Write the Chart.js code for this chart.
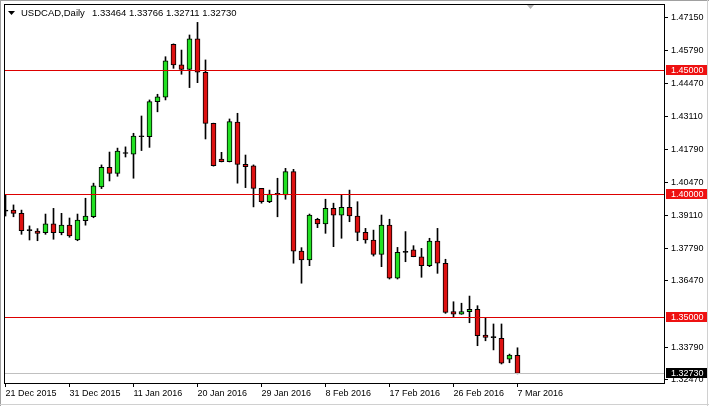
<!DOCTYPE html>
<html>
<head>
<meta charset="utf-8">
<script src="https://cdn.jsdelivr.net/npm/chart.js@4.4.1/dist/chart.umd.min.js"></script>
<style>
html,body{margin:0;padding:0;background:#fff;overflow:hidden}
canvas{display:block}
</style>
</head>
<body>
<canvas id="c" width="709" height="406"></canvas>
<script>
// ---------------- data ----------------
const symbol = 'USDCAD';
const period = 'Daily';
const dates = [
  '21 Dec 2015','22 Dec 2015','23 Dec 2015','24 Dec 2015','27 Dec 2015','28 Dec 2015','29 Dec 2015','30 Dec 2015',
  '31 Dec 2015','3 Jan 2016','4 Jan 2016','5 Jan 2016','6 Jan 2016','7 Jan 2016','8 Jan 2016','10 Jan 2016',
  '11 Jan 2016','12 Jan 2016','13 Jan 2016','14 Jan 2016','15 Jan 2016','17 Jan 2016','18 Jan 2016','19 Jan 2016',
  '20 Jan 2016','21 Jan 2016','22 Jan 2016','24 Jan 2016','25 Jan 2016','26 Jan 2016','27 Jan 2016','28 Jan 2016',
  '29 Jan 2016','31 Jan 2016','1 Feb 2016','2 Feb 2016','3 Feb 2016','4 Feb 2016','5 Feb 2016','7 Feb 2016',
  '8 Feb 2016','9 Feb 2016','10 Feb 2016','11 Feb 2016','12 Feb 2016','14 Feb 2016','15 Feb 2016','16 Feb 2016',
  '17 Feb 2016','18 Feb 2016','19 Feb 2016','21 Feb 2016','22 Feb 2016','23 Feb 2016','24 Feb 2016','25 Feb 2016',
  '26 Feb 2016','28 Feb 2016','29 Feb 2016','1 Mar 2016','2 Mar 2016','3 Mar 2016','4 Mar 2016','6 Mar 2016',
  '7 Mar 2016'
];
const opens = [
  1.3930,1.3934,1.3921,1.3851,1.3849,1.3843,1.3878,1.3843,
  1.3873,1.3813,1.3891,1.3907,1.4028,1.4107,1.4083,1.4163,
  1.4160,1.4231,1.4231,1.4373,1.4391,1.4605,1.4522,1.4504,
  1.4627,1.4492,1.4285,1.4141,1.4130,1.4290,1.4119,1.4113,
  1.4022,1.3968,1.4002,1.3995,1.4090,1.3768,1.3732,1.3897,
  1.3878,1.3941,1.3913,1.3945,1.3910,1.3844,1.3813,1.3755,
  1.3873,1.3658,1.3763,1.3773,1.3745,1.3709,1.3809,1.3719,
  1.3523,1.3513,1.3523,1.3532,1.3428,1.3418,1.3415,1.3330,
  1.33464
];
const highs = [
  1.3995,1.3955,1.3934,1.3870,1.3859,1.3918,1.3941,1.3921,
  1.3902,1.3918,1.3982,1.4043,1.4117,1.4169,1.4185,1.4190,
  1.4245,1.4315,1.4380,1.4403,1.4555,1.4607,1.4582,1.4643,
  1.4694,1.4542,1.4286,1.4168,1.4303,1.4326,1.4157,1.4117,
  1.4022,1.4015,1.4063,1.4103,1.4099,1.3782,1.3918,1.3901,
  1.3978,1.3962,1.3995,1.4015,1.3968,1.3860,1.3853,1.3914,
  1.3897,1.3783,1.3847,1.3790,1.3779,1.3820,1.3860,1.3735,
  1.3563,1.3557,1.3586,1.3547,1.3500,1.3473,1.3473,1.3351,
  1.33766
];
const lows = [
  1.3910,1.3907,1.3836,1.3813,1.3810,1.3836,1.3816,1.3834,
  1.3824,1.3810,1.3873,1.3903,1.4021,1.4052,1.4071,1.4149,
  1.4063,1.4175,1.4188,1.4332,1.4380,1.4508,1.4484,1.4430,
  1.4450,1.4222,1.4112,1.4129,1.4129,1.4043,1.4025,1.3947,
  1.3962,1.3964,1.3907,1.3978,1.3719,1.3638,1.3709,1.3863,
  1.3840,1.3786,1.3820,1.3887,1.3810,1.3800,1.3748,1.3705,
  1.3655,1.3655,1.3725,1.3745,1.3662,1.3705,1.3678,1.3516,
  1.3502,1.3512,1.3478,1.3385,1.3405,1.3368,1.3311,1.3316,
  1.32711
];
const closes = [
  1.3930,1.3921,1.3851,1.3851,1.3840,1.3878,1.3843,1.3873,
  1.3829,1.3894,1.3910,1.4032,1.4107,1.4083,1.4173,1.4163,
  1.4234,1.4231,1.4373,1.4393,1.4538,1.4522,1.4504,1.4627,
  1.4492,1.4285,1.4114,1.4130,1.4292,1.4119,1.4110,1.4022,
  1.3968,1.3999,1.3995,1.4090,1.3768,1.3732,1.3914,1.3878,
  1.3941,1.3913,1.3945,1.3910,1.3844,1.3813,1.3755,1.3873,
  1.3658,1.3763,1.3763,1.3745,1.3709,1.3809,1.3719,1.3520,
  1.3513,1.3523,1.3532,1.3426,1.3419,1.3418,1.3314,1.3347,
  1.32730
];
const priceTicks = [1.47150,1.45790,1.44470,1.43110,1.41790,1.40470,1.39110,1.37790,1.36470,1.33790,1.32470];
const dateTickIndex = [0,8,16,24,32,40,48,56,64];
const levels = [1.45000,1.40000,1.35000];

// ---------------- styles ----------------
const FONT = '"Liberation Sans", Arial, sans-serif';
const BULL = '#22e022';
const BEAR = '#dd1111';
const LEVEL = '#dd0000';

const n = dates.length;
const bodyColors = opens.map((o,i)=> closes[i] > o ? BULL : (closes[i] < o ? BEAR : '#000000'));

const overlay = {
  id: 'overlay',
  beforeDraw(chart){
    const ctx = chart.ctx;
    ctx.save();
    ctx.fillStyle = '#ffffff';
    ctx.fillRect(0,0,chart.width,chart.height);
    ctx.restore();
  },
  afterDatasetsDraw(chart){
    const ctx = chart.ctx, a = chart.chartArea, ys = chart.scales.y;
    ctx.save();
    let yb = Math.round(ys.getPixelForValue(closes[n-1])) + 0.5;
    ctx.strokeStyle = '#c0c0c0'; ctx.lineWidth = 1;
    ctx.beginPath(); ctx.moveTo(a.left, yb); ctx.lineTo(a.right, yb); ctx.stroke();
    ctx.strokeStyle = LEVEL;
    levels.forEach(v=>{
      const y = Math.round(ys.getPixelForValue(v)) + 0.5;
      ctx.beginPath(); ctx.moveTo(a.left, y); ctx.lineTo(a.right, y); ctx.stroke();
    });
    ctx.restore();
  },
  afterDraw(chart){
    const ctx = chart.ctx, a = chart.chartArea, ys = chart.scales.y;
    ctx.save();
    ctx.strokeStyle = '#000'; ctx.lineWidth = 1;
    ctx.strokeRect(a.left + 0.5, a.top + 0.5, a.right - a.left, a.bottom - a.top);
    ctx.fillStyle = '#a0a0a0';
    ctx.fillRect(0,0,chart.width,1);
    ctx.fillRect(0,0,1,chart.height);
    ctx.fillStyle = '#d0d0d0';
    ctx.fillRect(0,chart.height-2,chart.width,1);
    ctx.fillRect(chart.width-2,0,1,chart.height);
    ctx.fillStyle = '#b4b4b4';
    ctx.beginPath(); ctx.moveTo(527,5); ctx.lineTo(534,5); ctx.lineTo(530.5,9); ctx.closePath(); ctx.fill();
    ctx.fillStyle = '#000';
    ctx.beginPath(); ctx.moveTo(8,11); ctx.lineTo(15,11); ctx.lineTo(11.5,15); ctx.closePath(); ctx.fill();
    ctx.font = '9.5px ' + FONT;
    ctx.textBaseline = 'middle';
    ctx.textAlign = 'left';
    ctx.fillText(symbol + ',' + period, 21, 13);
    ctx.fillText([opens[n-1],highs[n-1],lows[n-1],closes[n-1]].map(v=>v.toFixed(5)).join(' '), 92, 13);
    ctx.font = '9px ' + FONT;
    const tag = (v, bg) => {
      const y = Math.round(ys.getPixelForValue(v));
      ctx.fillStyle = bg;
      ctx.fillRect(a.right + 2, y - 5, 41, 10);
      ctx.fillStyle = '#ffffff';
      ctx.fillText(v.toFixed(5), a.right + 7, y + 0.5);
    };
    levels.forEach(v=>tag(v, '#ee1111'));
    tag(closes[n-1], '#000000');
    ctx.restore();
  }
};

new Chart(document.getElementById('c'), {
  type: 'bar',
  data: {
    datasets: [
      {
        label: 'body',
        data: dates.map((d,i)=>({x:i, y:[opens[i], closes[i]]})),
        backgroundColor: bodyColors,
        borderColor: '#000000',
        borderWidth: 1,
        borderSkipped: false,
        barThickness: 5,
        minBarLength: 1,
        grouped: false
      },
      {
        label: 'wick',
        data: dates.map((d,i)=>({x:i, y:[lows[i], highs[i]]})),
        backgroundColor: '#000000',
        borderWidth: 0,
        barThickness: 1,
        grouped: false
      }
    ]
  },
  options: {
    responsive: false,
    animation: false,
    devicePixelRatio: 1,
    layout: { padding: { left: 4, top: 4, right: 0, bottom: 0 } },
    plugins: { legend: { display: false }, tooltip: { enabled: false } },
    scales: {
      x: {
        type: 'linear',
        offset: false,
        min: -0.1875,
        max: 82.3125,
        afterBuildTicks: s => { s.ticks = dateTickIndex.map(v=>({value:v})); },
        afterFit: s => { s.height = 23; s.paddingLeft = 0; s.paddingRight = 0; s.paddingTop = 0; s.paddingBottom = 0; },
        border: { display: false },
        grid: { drawOnChartArea: false, drawTicks: true, tickLength: 4, tickColor: '#000', offset: false },
        ticks: {
          autoSkip: false, maxRotation: 0, minRotation: 0, align: 'start', padding: 1,
          color: '#000', font: { family: FONT, size: 9 },
          callback: v => dates[v]
        }
      },
      y: {
        position: 'right',
        min: 1.323401,
        max: 1.476842,
        afterBuildTicks: s => { s.ticks = priceTicks.map(v=>({value:v})); },
        afterFit: s => { s.width = 45; s.paddingTop = 0; s.paddingBottom = 0; s.paddingLeft = 0; s.paddingRight = 0; },
        border: { display: false },
        grid: { drawOnChartArea: false, drawTicks: true, tickLength: 4, tickColor: '#000' },
        ticks: {
          padding: 3, color: '#000', font: { family: FONT, size: 9 },
          callback: v => v.toFixed(5)
        }
      }
    }
  },
  plugins: [overlay]
});
</script>
</body>
</html>
